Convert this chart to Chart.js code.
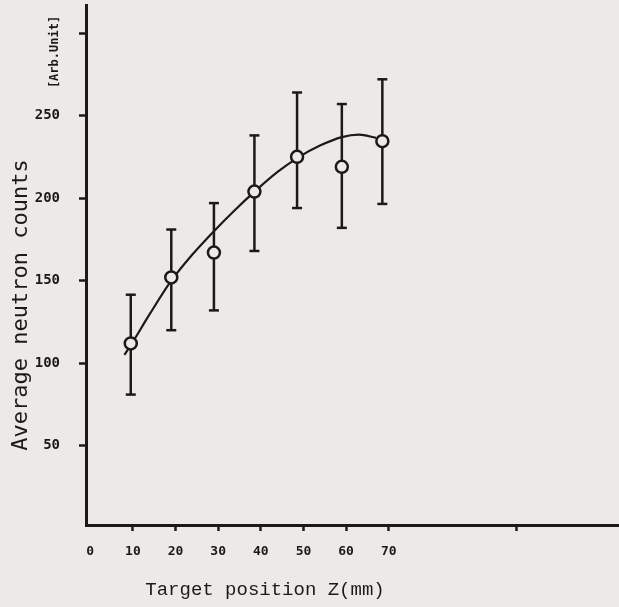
<!DOCTYPE html>
<html>
<head>
<meta charset="utf-8">
<script src="https://cdn.jsdelivr.net/npm/chart.js@4"></script>
<style>
  html, body { margin: 0; padding: 0; background: #ebeae6; }
  #wrap { width: 619px; height: 607px; }
</style>
</head>
<body>
<div id="wrap"><canvas id="myChart"></canvas></div>
<script>
// measured points (target position in mm, counts)
const zPos = [9.5, 19, 29, 38.5, 48.5, 59, 68.5];
const counts = [112, 152, 167, 204, 225, 219, 234.5];
// error bar ends
const errLow = [81, 120, 132, 168, 194, 182, 196.5];
const errHigh = [141.5, 181, 197, 238, 264, 257, 272];
// hand drawn fit curve
const fitZ = [8, 10, 14, 19, 24, 29, 34, 39, 44, 49, 54, 59, 63, 67];
const fitCounts = [105, 113, 130, 150, 166, 180, 193, 205, 216, 225, 232, 237, 238.5, 236.5];
// axis ticks
const xTicks = [0, 10, 20, 30, 40, 50, 60, 70, 100];
const xLabeled = [0, 10, 20, 30, 40, 50, 60, 70];
const yTicks = [50, 100, 150, 200, 250, 300];
const yLabeled = [50, 100, 150, 200, 250];

const ink = '#1b1a18';
const paper = '#ebeae6';

// error bars, one small line per point, caps drawn with the 'line' point style
const errorBars = zPos.map((z, i) => ({
    data: [{x: z, y: errLow[i]}, {x: z, y: errHigh[i]}],
    showLine: true,
    borderColor: ink,
    borderWidth: 2.5,
    pointStyle: 'line',
    pointRadius: 5,
    pointBorderWidth: 2.5,
    pointBorderColor: ink,
    order: 3
}));

// axis titles drawn by hand so they sit where the original has them
const axisText = {
    id: 'axisText',
    afterDraw(chart) {
        const c = chart.ctx;
        c.save();
        c.fillStyle = ink;
        c.textAlign = 'center';
        c.textBaseline = 'middle';

        c.save();
        c.translate(21, 305);
        c.rotate(-Math.PI / 2);
        c.font = '22px "DejaVu Sans Mono"';
        c.fillText('Average neutron counts', 0, 0);
        c.restore();

        c.save();
        c.translate(55, 52);
        c.rotate(-Math.PI / 2);
        c.font = 'bold 12px "DejaVu Sans Mono"';
        c.fillText('[Arb.Unit]', 0, 0);
        c.restore();

        c.font = '19px "Liberation Mono"';
        c.fillText('Target position Z(mm)', 265, 590);
        c.restore();
    }
};

const ctx = document.getElementById('myChart');
const myChart = new Chart(ctx, {
    type: 'scatter',
    data: {
        datasets: [
            {
                data: zPos.map((z, i) => ({x: z, y: counts[i]})),
                pointStyle: 'circle',
                pointRadius: 6,
                pointBorderWidth: 2.5,
                pointBorderColor: ink,
                pointBackgroundColor: paper,
                order: 1
            },
            {
                data: fitZ.map((z, i) => ({x: z, y: fitCounts[i]})),
                showLine: true,
                borderColor: ink,
                borderWidth: 2.2,
                pointRadius: 0,
                cubicInterpolationMode: 'monotone',
                order: 2
            },
            ...errorBars
        ]
    },
    options: {
        responsive: true,
        maintainAspectRatio: false,
        animation: false,
        layout: { autoPadding: false, padding: { top: 5, right: 0, left: 0, bottom: 0 } },
        plugins: {
            legend: { display: false },
            tooltip: { enabled: false }
        },
        scales: {
            x: {
                type: 'linear',
                min: -1,
                max: 124,
                afterBuildTicks: scale => { scale.ticks = xTicks.map(v => ({value: v})); },
                afterFit: scale => {
                    scale.height = 82;
                    scale.paddingLeft = 0;
                    scale.paddingRight = 0;
                },
                border: { display: true, color: ink, width: 3 },
                grid: {
                    drawOnChartArea: false,
                    drawTicks: true,
                    tickLength: 6,
                    tickWidth: 2.5,
                    tickColor: c => (c.tick && c.tick.value === 0) ? 'rgba(0,0,0,0)' : ink
                },
                ticks: {
                    color: ink,
                    padding: 13,
                    maxRotation: 0,
                    autoSkip: false,
                    font: { family: '"DejaVu Sans Mono"', size: 13, weight: 'bold' },
                    callback: v => xLabeled.includes(v) ? String(v) : ''
                }
            },
            y: {
                type: 'linear',
                min: 2,
                max: 317,
                afterBuildTicks: scale => { scale.ticks = yTicks.map(v => ({value: v})); },
                afterFit: scale => {
                    scale.width = 86;
                    scale.paddingTop = 0;
                    scale.paddingBottom = 0;
                },
                border: { display: true, color: ink, width: 3 },
                grid: {
                    drawOnChartArea: false,
                    drawTicks: true,
                    tickLength: 7,
                    tickWidth: 2.5,
                    tickColor: ink
                },
                ticks: {
                    color: ink,
                    padding: 19,
                    font: { family: '"DejaVu Sans Mono"', size: 14, weight: 'bold' },
                    callback: v => yLabeled.includes(v) ? String(v) : ''
                }
            }
        }
    },
    plugins: [axisText]
});
</script>
</body>
</html>
